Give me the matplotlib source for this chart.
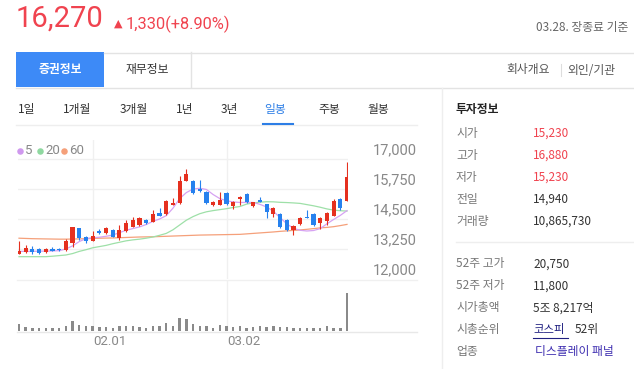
import numpy as np
import matplotlib
matplotlib.use("Agg")
import matplotlib.pyplot as plt
from matplotlib.patches import Rectangle

plt.rcParams['font.family'] = ['Noto Sans CJK KR', 'DejaVu Sans']

## Data (50 daily candles, last = 03.28)
opens = [13050, 13110, 13260, 13250, 13110, 13230, 13250, 13200, 13490, 14110,
         13730, 13600, 13980, 13900, 14040, 13710, 14010, 14180, 14250, 14460,
         14390, 14740, 14710, 15080, 15150, 16100, 16100, 15740, 15630, 15070,
         15100, 15600, 15040, 15320, 15540, 15030, 15280, 15110, 14690, 14690,
         14460, 14030, 14280, 14583, 14690, 14320, 14416, 14640, 15320, 15230]
highs = [13600, 13400, 13370, 13300, 13290, 13320, 13280, 13680, 14180, 14140,
         13790, 14010, 14070, 14180, 14070, 14240, 14460, 14600, 14570, 14490,
         14870, 14940, 15290, 15360, 16290, 16570, 16120, 16120, 15650, 15240,
         15630, 15630, 15240, 15470, 15570, 15220, 15430, 15140, 15000, 14740,
         14490, 14250, 14580, 14875, 14740, 14583, 14805, 15333, 15360, 16880]
lows = [13040, 13070, 13040, 13050, 13090, 13180, 13180, 13180, 13320, 13620,
        13510, 13570, 13870, 13870, 13740, 13620, 13970, 14150, 14220, 14290,
        14360, 14620, 14680, 15070, 15120, 16070, 15540, 15620, 15120, 15040,
        15070, 15100, 14930, 15080, 15170, 15000, 15190, 14530, 14600, 14140,
        14000, 13830, 14250, 14530, 14190, 14080, 14250, 14610, 14890, 15230]
closes = [13180, 13280, 13120, 13100, 13260, 13180, 13200, 13600, 14150, 13690,
          13570, 13790, 13900, 14120, 13760, 14040, 14320, 14460, 14530, 14320,
          14690, 14640, 15260, 15180, 16100, 16370, 15570, 15650, 15180, 15210,
          15290, 15120, 15210, 15430, 15190, 15190, 15190, 14800, 14970, 14180,
          14040, 14190, 14555, 14530, 14250, 14555, 14735, 15250, 14940, 16270]
# volume in millions of shares
volumes = [1.93, 1.15, 0.95, 0.95, 0.78, 0.78, 0.95, 1.35, 2.88, 1.73,
           1.53, 1.35, 1.15, 1.15, 0.95, 1.53, 1.53, 1.35, 1.15, 0.95,
           1.53, 1.53, 2.30, 1.35, 3.66, 3.46, 2.10, 1.53, 1.53, 0.78,
           1.73, 1.53, 1.15, 1.35, 0.95, 1.15, 1.53, 1.15, 1.35, 1.15,
           1.15, 0.78, 0.95, 0.78, 0.95, 0.95, 1.35, 0.95, 0.95, 10.87]
ma5 = [13150, 13150, 13150, 13160, 13160, 13170, 13180, 13250, 13380, 13560,
       13680, 13720, 13740, 13780, 13830, 13930, 14030, 14100, 14170, 14270,
       14400, 14500, 14640, 14950, 15350, 15600, 15750, 15780, 15730, 15520,
       15350, 15260, 15210, 15190, 15190, 15190, 15110, 15000, 14820, 14560,
       14300, 14110, 14030, 14000, 14020, 14100, 14300, 14480, 14650, 14850]
ma20 = [12930, 12930, 12930, 12930, 12930, 12950, 12975, 13000, 13060, 13150,
        13220, 13300, 13350, 13400, 13470, 13530, 13590, 13630, 13660, 13700,
        13750, 13820, 13900, 14050, 14250, 14450, 14600, 14720, 14800, 14850,
        14890, 14930, 14980, 15020, 15120, 15170, 15200, 15220, 15215, 15195,
        15185, 15170, 15150, 15100, 15050, 14990, 14920, 14870, 14845, 14830]
ma60 = [13700, 13690, 13680, 13675, 13670, 13665, 13660, 13660, 13665, 13670,
        13680, 13690, 13700, 13705, 13710, 13720, 13730, 13740, 13750, 13755,
        13760, 13770, 13780, 13790, 13800, 13810, 13820, 13830, 13835, 13840,
        13845, 13850, 13855, 13860, 13880, 13900, 13920, 13940, 13960, 13985,
        14005, 14025, 14045, 14070, 14100, 14130, 14150, 14180, 14225, 14275]

price_ticks = [17000, 15750, 14500, 13250, 12000]
date_pos = [11, 31]
date_labels = ['02.01', '03.02']

period_tabs = ['1일', '1개월', '3개월', '1년', '3년', '일봉', '주봉', '월봉']
info1_labels = ['시가', '고가', '저가', '전일', '거래량']
info1_values = ['15,230', '16,880', '15,230', '14,940', '10,865,730']
info2_labels = ['52주 고가', '52주 저가', '시가총액', '시총순위', '업종']

RED = '#f0434f'
C_UP = '#e5301f'
C_DOWN = '#2681ee'
GRID = '#f0f0f0'

W, H = 634, 369
fig = plt.figure(figsize=(W / 100, H / 100), dpi=100)

def px_axes(x0, y0, x1, y1):
    return fig.add_axes([x0 / W, 1 - y1 / H, (x1 - x0) / W, (y1 - y0) / H])

# overlay for the page furniture
ov = px_axes(0, 0, W, H)
ov.set_xlim(0, W)
ov.set_ylim(H, 0)
ov.axis('off')

# header
ov.text(16, 19, '16,270', family=['Roboto', 'DejaVu Sans'], fontsize=21, color=RED, va='center')
ov.text(114, 24, '▲', family='DejaVu Sans', fontsize=8, color=RED, va='center')
ov.text(126, 24, '1,330(+8.90%)', family=['Roboto', 'DejaVu Sans'], fontsize=11.8, color=RED, va='center')
ov.text(536, 27, '03.28. 장종료 기준', fontsize=8.5, color='#666666', va='center')

# tab bar
ov.add_patch(Rectangle((16, 52), 88, 35, color='#3d8af7', lw=0))
ov.plot([104, W], [52.5, 52.5], color='#e3e3e3', lw=1)
ov.plot([16, W], [87.5, 87.5], color='#e3e3e3', lw=1)
ov.plot([190.5, 190.5], [52, 87], color='#e3e3e3', lw=1)
ov.text(60, 70, '증권정보', fontsize=8.5, color='white', weight='bold', ha='center', va='center')
ov.text(147, 70, '재무정보', fontsize=8.5, color='#333333', ha='center', va='center')
ov.text(506, 70, '회사개요', fontsize=8.5, color='#555555', va='center')
ov.plot([561, 561], [64, 76], color='#dddddd', lw=0.8)
ov.text(567, 70, '외인/기관', fontsize=8.5, color='#555555', va='center')

# period tabs
tab_x = [18, 63, 120, 176, 221, 264, 318, 367]
for lbl, tx in zip(period_tabs, tab_x):
    col = '#2d7ee6' if lbl == '일봉' else '#333333'
    ov.text(tx, 109, lbl, fontsize=8.5, color=col, va='center')
ov.plot([16, 417], [124.5, 124.5], color='#eeeeee', lw=1)
ov.plot([263, 293], [123.5, 123.5], color='#2d7ee6', lw=1.5)
ov.plot([441.5, 441.5], [88, H], color='#eeeeee', lw=1)

# legend
for i, (lab, col) in enumerate(zip(['5', '20', '60'], ['#cf98ee', '#8fd8a0', '#f5a07a'])):
    lx = [20, 40, 64][i]
    ov.scatter([lx], [150.5], s=22, color=col, lw=0)
    ov.text(lx + 5, 150.5, lab, family=['Roboto', 'DejaVu Sans'], fontsize=9.5, color='#888888', va='center')

# 12000 line and volume baseline
ov.plot([17, 417], [279.5, 279.5], color=GRID, lw=1)
ov.plot([17, 417], [331.5, 331.5], color='#e8e8e8', lw=1)

# right info panel
ov.text(456, 109, '투자정보', fontsize=8.5, color='#222222', weight='bold', va='center')
for k, (lab, val) in enumerate(zip(info1_labels, info1_values)):
    yy = 133 + 22 * k
    ov.text(456, yy, lab, fontsize=8.5, color='#777777', va='center')
    ov.text(533, yy, val, fontsize=8.5, color=RED if k < 3 else '#333333', va='center')
ov.plot([456, W], [241.5, 241.5], color='#eeeeee', lw=1)
for k, lab in enumerate(info2_labels):
    ov.text(456, 264 + 22 * k, lab, fontsize=8.5, color='#777777', va='center')
ov.text(533, 264, '20,750', fontsize=8.5, color='#333333', va='center')
ov.text(533, 286, '11,800', fontsize=8.5, color='#333333', va='center')
ov.text(533, 308, '5조 8,217억', fontsize=8.5, color='#333333', va='center')
ov.text(533, 330, '코스피', fontsize=8.2, color='#1f1f80', va='center')
ov.plot([533, 568], [337.5, 337.5], color='#1f1f80', lw=0.8)
ov.text(575, 330, '52위', fontsize=8.5, color='#333333', va='center')
ov.text(535, 352, '디스플레이 패널', fontsize=8.5, color='#3d2db0', va='center')

## price chart
x = np.arange(len(closes))
ax = px_axes(18, 140, 348, 279)
ax.set_facecolor('none')
ax.set_xlim(-0.15, len(closes) - 0.85)
ax.set_ylim(12000, 12000 + 139 / 30 * 1250)
for t in price_ticks[:-1]:
    ax.axhline(t, color=GRID, lw=1, zorder=0)
for p in date_pos:
    ax.axvline(p, color=GRID, lw=1, zorder=0)
for t in price_ticks:
    ax.annotate(f'{t:,}', xy=(1, t), xycoords=('axes fraction', 'data'),
                xytext=(18, 6.5), textcoords='offset points', va='center',
                family=['Roboto', 'DejaVu Sans'], fontsize=10.5, color='#888888',
                annotation_clip=False)

ax.plot(x, ma60, color='#f5a07a', lw=0.9, zorder=1)
ax.plot(x, ma20, color='#9ee0a8', lw=0.9, zorder=1)
ax.plot(x, ma5, color='#d6a2f2', lw=0.9, zorder=1)

for i in range(len(closes)):
    col = C_UP if closes[i] >= opens[i] else C_DOWN
    ax.vlines(x[i], lows[i], highs[i], color=col, lw=0.8, zorder=2)
    lo, hi = min(opens[i], closes[i]), max(opens[i], closes[i])
    ax.bar(x[i], max(hi - lo, 25), bottom=lo, width=0.62, color=col, lw=0, zorder=3)
ax.axis('off')

## volume chart
axv = px_axes(18, 280, 348, 331)
axv.set_facecolor('none')
axv.set_xlim(-0.15, len(closes) - 0.85)
axv.set_ylim(0, max(volumes) * 51 / 37.7)
for p in date_pos:
    axv.axvline(p, color=GRID, lw=1, zorder=0)
axv.bar(x, volumes, width=0.36, color='#8a8a8a', lw=0)
for p, lab in zip(date_pos, date_labels):
    axv.annotate(lab, xy=(p, 0), xycoords='data', xytext=(0.8, -7.5),
                 textcoords='offset points', va='center', ha='left',
                 family=['Roboto', 'DejaVu Sans'], fontsize=9.5, color='#888888',
                 annotation_clip=False)
axv.axis('off')

fig.savefig('out.png', dpi=100)
